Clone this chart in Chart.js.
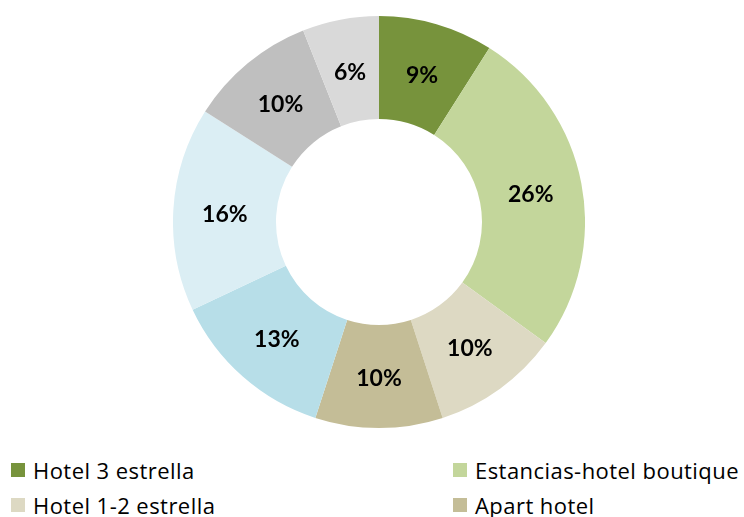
<!DOCTYPE html>
<html>
<head>
<meta charset="utf-8">
<script src="https://cdn.jsdelivr.net/npm/chart.js@4"></script>
<style>
  html, body { margin: 0; padding: 0; background: #fff; overflow: hidden; }
  body { width: 744px; height: 517px; position: relative; font-family: "Open Sans", Lato, sans-serif; }
  #wrap { position: absolute; left: 173px; top: 16px; width: 412px; height: 412px; }
  #legend { position: absolute; left: 11px; top: 452px; width: 733px; display: grid;
            grid-template-columns: 442px auto; grid-auto-rows: 35.5px; }
  .item { display: flex; align-items: center; font-size: 22px; line-height: 22px; letter-spacing: 0.45px;
          color: #000; white-space: nowrap; }
  .box { width: 14px; height: 14px; margin-right: 8px; flex: none; }
</style>
</head>
<body>
<div id="wrap"><canvas id="hotelChart" width="412" height="412"></canvas></div>
<div id="legend"></div>
<script>
// Tipos de alojamiento (%)
const labels = ['Hotel 3 estrella', 'Estancias-hotel boutique', 'Hotel 1-2 estrella', 'Apart hotel',
                'Hotel 4 estrella', 'Hostal', 'Hotel 5 estrella', 'Otro'];
const values = [9, 26, 10, 10, 13, 16, 10, 6];
const colors = ['#77933C', '#C3D69B', '#DDD9C3', '#C4BD97', '#B7DEE8', '#DBEEF4', '#BFBFBF', '#D9D9D9'];

// percentage labels in the middle of each ring segment
const sliceLabels = {
    id: 'sliceLabels',
    afterDatasetsDraw(chart) {
        const ctx = chart.ctx;
        const meta = chart.getDatasetMeta(0);
        ctx.save();
        ctx.font = 'bold 23px Lato, sans-serif';
        ctx.fillStyle = '#000';
        ctx.textAlign = 'center';
        ctx.textBaseline = 'middle';
        meta.data.forEach((arc, i) => {
            const p = arc.tooltipPosition();
            ctx.fillText(values[i] + '%', p.x, p.y + 2);
        });
        ctx.restore();
    }
};

const hotelCtx = document.getElementById('hotelChart').getContext('2d');
const hotelChart = new Chart(hotelCtx, {
    type: 'doughnut',
    data: {
        labels: labels,
        datasets: [{
            data: values,
            backgroundColor: colors,
            borderWidth: 0,
            hoverOffset: 0
        }]
    },
    options: {
        responsive: false,
        animation: false,
        cutout: '50%',
        layout: { padding: 0 },
        plugins: {
            legend: { display: false },
            tooltip: { enabled: false }
        }
    },
    plugins: [sliceLabels]
});

// two-column legend under the chart
const legend = document.getElementById('legend');
labels.forEach((name, i) => {
    const item = document.createElement('div');
    item.className = 'item';
    item.innerHTML = '<span class="box" style="background:' + colors[i] + '"></span><span></span>';
    item.lastChild.textContent = name;
    legend.appendChild(item);
});
</script>
</body>
</html>
